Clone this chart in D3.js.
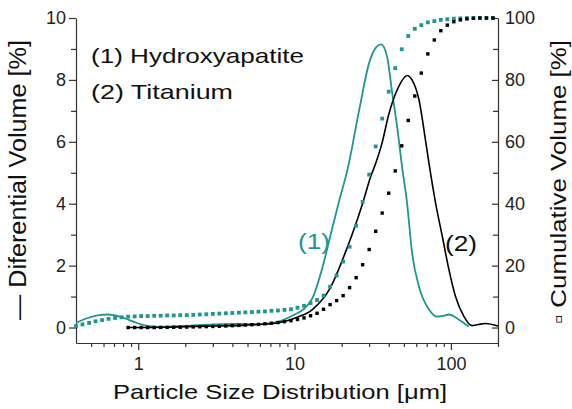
<!DOCTYPE html>
<html>
<head>
<meta charset="utf-8">
<script src="https://cdn.jsdelivr.net/npm/d3@7"></script>
<style>
  body { margin: 0; background: #fff; }
  text { font-family: Arial, "Liberation Sans", sans-serif; }
</style>
</head>
<body>
<script>
// Measurement channels (um) shared by both cumulative curves
var sizeGrid = [0.4, 0.44, 0.485, 0.533, 0.587, 0.646, 0.711, 0.783, 0.862, 0.949,
    1.044, 1.149, 1.265, 1.392, 1.532, 1.687, 1.857, 2.044, 2.249, 2.476,
    2.725, 3.0, 3.302, 3.634, 4.0, 4.403, 4.846, 5.334, 5.871, 6.462,
    7.113, 7.829, 8.618, 9.485, 10.44, 11.49, 12.65, 13.92, 15.32, 16.87,
    18.57, 20.44, 22.49, 24.76, 27.25, 30.0, 33.02, 36.34, 40.0, 44.03,
    48.46, 53.34, 58.71, 64.62, 71.13, 78.29, 86.18, 94.85, 104.4, 114.9,
    126.5, 139.2, 153.2, 168.7, 185.7];

// Cumulative volume [%] - (1) Hydroxyapatite
var cumHA = [0.5, 1.0, 1.5, 2.0, 2.4, 2.8, 3.1, 3.3, 3.5, 3.6,
    3.7, 3.7, 3.8, 3.8, 3.9, 3.9, 4.0, 4.0, 4.1, 4.2,
    4.3, 4.4, 4.5, 4.6, 4.7, 4.8, 4.9, 5.0, 5.1, 5.2,
    5.4, 5.5, 5.7, 5.9, 6.4, 7.0, 7.9, 8.9, 10.3, 13.2,
    16.8, 21.3, 26.1, 32.9, 40.6, 49.4, 58.5, 67.5, 76.2, 83.8,
    89.9, 94.2, 96.5, 97.7, 98.6, 99.0, 99.4, 99.6, 99.8, 99.9,
    100, 100, 100, 100, 100];

// Cumulative volume [%] - (2) Titanium (no data below 0.86 um)
var cumTi = [null, null, null, null, null, null, null, null, 0, 0,
    0, 0, 0, 0.05, 0.05, 0.1, 0.1, 0.15, 0.2, 0.25,
    0.3, 0.35, 0.4, 0.5, 0.6, 0.7, 0.8, 0.9, 1.0, 1.2,
    1.4, 1.6, 1.9, 2.2, 2.6, 3.1, 3.8, 4.6, 5.9, 7.4,
    8.7, 10.3, 12.9, 16.1, 20.3, 25.2, 31.1, 37.0, 43.4, 50.6,
    58.7, 66.9, 74.8, 82.2, 88.4, 92.9, 95.9, 97.7, 98.8, 99.4,
    99.7, 99.9, 100, 100, 100];

// Differential volume [%] - (1) Hydroxyapatite
var haDiffSize = [0.4, 0.47, 0.55, 0.64, 0.75, 0.87, 1.0, 1.15, 1.4, 2,
    3, 4, 5, 6.5, 8, 10, 11.5, 13, 15, 17,
    19.3, 21.8, 25.9, 30, 33.3, 35.8, 39.1, 42.1, 45.3, 48.7,
    52.4, 56.4, 62.5, 72.4, 81.4, 90, 97.1, 112, 130];
var haDiff = [0.15, 0.3, 0.39, 0.42, 0.36, 0.25, 0.13, 0.05, 0.02, 0.05,
    0.1, 0.12, 0.11, 0.12, 0.2, 0.42, 0.6, 0.95, 1.9, 3.0,
    4.1, 5.1, 7.03, 8.55, 9.06, 9.15, 8.74, 7.58, 6.48, 5.19,
    4.03, 2.42, 1.32, 0.58, 0.35, 0.38, 0.42, 0.26, 0.03];

// Differential volume [%] - (2) Titanium
var tiDiffSize = [0.86, 1, 1.5, 2, 3, 4, 5, 6, 7, 8,
    10, 13, 16.7, 21.4, 23.7, 27.2, 30.8, 33.0, 36, 40.1,
    46.5, 52.4, 56.4, 62.5, 69, 72.4, 79.9, 88.1, 97.1, 107,
    121, 136, 150, 166, 200];
var tiDiff = [0, 0, 0.01, 0.03, 0.05, 0.06, 0.08, 0.1, 0.12, 0.16,
    0.3, 0.58, 1.23, 2.5, 3.1, 4.0, 4.9, 5.3, 5.9, 6.9,
    7.8, 8.14, 8.0, 7.35, 6.0, 5.3, 4.0, 2.94, 1.87, 1.0,
    0.36, 0.06, 0.1, 0.13, 0.05];

var xMajor = [1, 10, 100];
var xMinor = [0.5, 0.6, 0.7, 0.8, 0.9, 2, 3, 4, 5, 6, 7, 8, 9,
    20, 30, 40, 50, 60, 70, 80, 90, 200];
var yLeftMajor = [0, 2, 4, 6, 8, 10];
var yLeftMinor = [1, 3, 5, 7, 9];
var yRightMajor = [0, 20, 40, 60, 80, 100];
var yRightMinor = [10, 30, 50, 70, 90];

var teal = '#1f9690';
var axisColor = '#333';

var svg = d3.select('body').append('svg')
    .attr('width', 572)
    .attr('height', 409);

// plot box in pixels
var box = {l: 76, r: 498, t: 18, b: 343};

var xScale = d3.scaleLog().domain([0.4, 200]).range([box.l, box.r]);
var yDiff = d3.scaleLinear().domain([-0.5, 10]).range([box.b, box.t]);
var yCum = d3.scaleLinear().domain([-5, 100]).range([box.b, box.t]);

function styleAxis(g) {
    g.selectAll('path, line').attr('stroke', axisColor).attr('stroke-width', 1.2);
    g.selectAll('text')
        .attr('fill', '#222')
        .style('font-size', '18px')
        .style('font-family', 'Arial, "Liberation Sans", sans-serif');
}

// ---- axes ----
var xAx = svg.append('g').attr('transform', 'translate(0,' + box.b + ')');
xAx.call(d3.axisBottom(xScale).tickValues(xMajor).tickFormat(d3.format('d'))
    .tickSize(7).tickPadding(7).tickSizeOuter(0));
xAx.append('g').call(d3.axisBottom(xScale).tickValues(xMinor).tickFormat('')
    .tickSize(4).tickSizeOuter(0))
    .select('.domain').remove();
styleAxis(xAx);

var yAxL = svg.append('g').attr('transform', 'translate(' + box.l + ',0)');
yAxL.call(d3.axisLeft(yDiff).tickValues(yLeftMajor).tickSize(7).tickPadding(3).tickSizeOuter(0));
yAxL.append('g').call(d3.axisLeft(yDiff).tickValues(yLeftMinor).tickFormat('')
    .tickSize(5).tickSizeOuter(0))
    .select('.domain').remove();
styleAxis(yAxL);

var yAxR = svg.append('g').attr('transform', 'translate(' + box.r + ',0)');
yAxR.call(d3.axisRight(yCum).tickValues(yRightMajor).tickSize(-6).tickPadding(7).tickSizeOuter(0));
yAxR.append('g').call(d3.axisRight(yCum).tickValues(yRightMinor).tickFormat('')
    .tickSize(-5).tickSizeOuter(0))
    .select('.domain').remove();
styleAxis(yAxR);

// ---- differential lines ----
var line = d3.line()
    .x(function(d) { return xScale(d[0]); })
    .y(function(d) { return yDiff(d[1]); })
    .curve(d3.curveMonotoneX);

svg.append('path')
    .datum(haDiffSize.map(function(s, i) { return [s, haDiff[i]]; }))
    .attr('fill', 'none')
    .attr('stroke', teal)
    .attr('stroke-width', 1.8)
    .attr('d', line);

svg.append('path')
    .datum(tiDiffSize.map(function(s, i) { return [s, tiDiff[i]]; }))
    .attr('fill', 'none')
    .attr('stroke', '#000')
    .attr('stroke-width', 1.6)
    .attr('d', line);

// ---- cumulative dots ----
function drawDots(values, color, sz) {
    var pts = sizeGrid.map(function(s, i) { return {s: s, v: values[i]}; })
        .filter(function(d) { return d.v !== null; });
    svg.append('g').selectAll('rect')
        .data(pts)
        .enter()
        .append('rect')
        .attr('x', function(d) { return xScale(d.s) - sz / 2; })
        .attr('y', function(d) { return yCum(d.v) - sz / 2; })
        .attr('width', sz)
        .attr('height', sz)
        .attr('fill', color);
}
drawDots(cumHA, teal, 3.8);
drawDots(cumTi, '#000', 3.4);

// ---- texts ----
svg.append('text')
    .attr('x', 113).attr('y', 399)
    .attr('textLength', 334).attr('lengthAdjust', 'spacingAndGlyphs')
    .style('font-size', '21px').attr('fill', '#111')
    .text('Particle Size Distribution [\u03bcm]');

svg.append('text')
    .attr('transform', 'translate(26,320) rotate(-90)')
    .attr('textLength', 280).attr('lengthAdjust', 'spacingAndGlyphs')
    .style('font-size', '23px').attr('fill', '#111')
    .text('\u2014 Diferential Volume [%]');

svg.append('text')
    .attr('transform', 'translate(566,324) rotate(-90)')
    .attr('textLength', 284).attr('lengthAdjust', 'spacingAndGlyphs')
    .style('font-size', '22px').attr('fill', '#111')
    .text('\u25ab Cumulative Volume [%]');

svg.append('text')
    .attr('x', 91).attr('y', 63)
    .attr('textLength', 213).attr('lengthAdjust', 'spacingAndGlyphs')
    .style('font-size', '21px').attr('fill', '#111')
    .text('(1) Hydroxyapatite');

svg.append('text')
    .attr('x', 91).attr('y', 99)
    .attr('textLength', 142).attr('lengthAdjust', 'spacingAndGlyphs')
    .style('font-size', '21px').attr('fill', '#111')
    .text('(2) Titanium');

svg.append('text')
    .attr('x', 298).attr('y', 249)
    .attr('textLength', 32).attr('lengthAdjust', 'spacingAndGlyphs')
    .style('font-size', '22px').attr('fill', teal)
    .text('(1)');

svg.append('text')
    .attr('x', 445).attr('y', 251)
    .attr('textLength', 32).attr('lengthAdjust', 'spacingAndGlyphs')
    .style('font-size', '22px').attr('fill', '#111')
    .text('(2)');
</script>
</body>
</html>
